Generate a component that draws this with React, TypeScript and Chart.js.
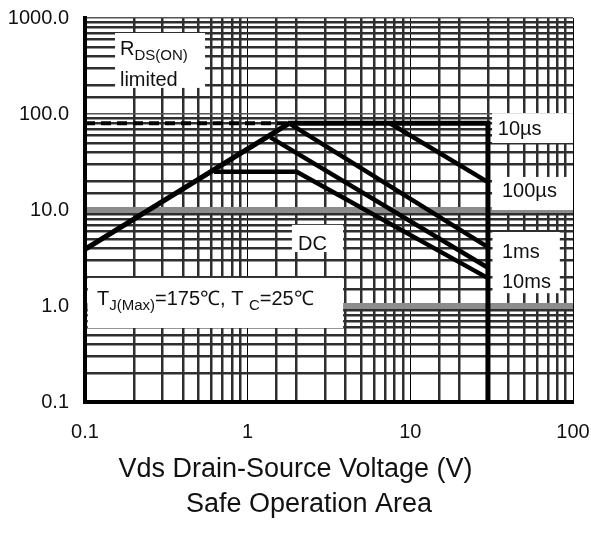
import React, { useEffect, useRef } from "react";
import { Chart, registerables } from "chart.js";

Chart.register(...registerables);

const FONT = '"Liberation Sans", Arial, sans-serif';

// Tick labels (one per decade)
const xTickLabels = ["0.1", "1", "10", "100"];
const yTickLabels = ["0.1", "1.0", "10.0", "100.0", "1000.0"];
const xMin = 0.1;
const xMax = 100;
const yMin = 0.1;
const yMax = 1000;

// Series (Vds in V, Id in A)
const rdsDashV = [0.1, 1.8];
const rdsDashI = [80, 80];
const us10V = [0.1, 1.8, 30, 30];
const us10I = [3.9, 80, 80, 0.1];
const us100V = [7.5, 30];
const us100I = [80, 19.5];
const ms1V = [1.8, 30];
const ms1I = [80, 4.1];
const ms10V = [1.38, 30];
const ms10I = [57, 2.5];
const dcV = [0.62, 2.0, 30];
const dcI = [25, 25, 1.95];

// White label boxes, in data coordinates
const boxX0 = [0.153, 31.8, 31.8, 32.0, 1.87, 0.104];
const boxX1 = [0.547, 100, 100, 83, 3.86, 3.86];
const boxY0 = [187, 49.9, 10, 1.36, 3.65, 0.59];
const boxY1 = [698, 102, 22.1, 5.9, 7.0, 1.96];

// Annotation texts: segments [text, isSubscript]
const labelTexts: [string, boolean][][] = [
  [["R", false], ["DS(ON)", true]],
  [["limited", false]],
  [["10\u00b5s", false]],
  [["100\u00b5s", false]],
  [["1ms", false]],
  [["10ms", false]],
  [["DC", false]],
  [["T", false], ["J(Max)", true], ["=175\u2103, T ", false], ["C", true], ["=25\u2103", false]],
];
const labelX = [0.164, 0.164, 34.5, 36.6, 36.6, 36.6, 2.04, 0.1185];
const labelY = [412, 196, 60.4, 13.6, 3.16, 1.54, 3.83, 1.024];

const axisTitle = "Vds Drain-Source Voltage (V)";
const caption = "Safe Operation Area";

const pts = (xs: number[], ys: number[]) => xs.map((x, i) => ({ x, y: ys[i] }));

const isDecade = (v: number) => {
  const l = Math.log10(v);
  return Math.abs(l - Math.round(l)) < 1e-6;
};

const annotPlugin = {
  id: "annot",
  beforeDatasetsDraw(chart: any) {
    const { ctx, scales } = chart;
    const xs = scales.x;
    const ys = scales.y;
    ctx.save();
    ctx.fillStyle = "#ffffff";
    for (let i = 0; i < boxX0.length; i++) {
      const a = xs.getPixelForValue(boxX0[i]);
      const b = xs.getPixelForValue(boxX1[i]);
      const c = ys.getPixelForValue(boxY1[i]);
      const d = ys.getPixelForValue(boxY0[i]);
      ctx.fillRect(a, c, b - a, d - c);
    }
    ctx.restore();
  },
  afterDatasetsDraw(chart: any) {
    const { ctx, scales } = chart;
    const xs = scales.x;
    const ys = scales.y;
    ctx.save();
    ctx.fillStyle = "#111111";
    ctx.textBaseline = "alphabetic";
    ctx.textAlign = "left";
    for (let i = 0; i < labelTexts.length; i++) {
      let px = xs.getPixelForValue(labelX[i]);
      const py = ys.getPixelForValue(labelY[i]);
      for (const [t, sub] of labelTexts[i]) {
        ctx.font = sub ? `15px ${FONT}` : `20px ${FONT}`;
        ctx.fillText(t, px, sub ? py + 5 : py);
        px += ctx.measureText(t).width;
      }
    }
    ctx.restore();
  },
  afterDraw(chart: any) {
    const { ctx } = chart;
    ctx.save();
    ctx.fillStyle = "#111111";
    ctx.textAlign = "center";
    ctx.textBaseline = "alphabetic";
    ctx.font = `27px ${FONT}`;
    ctx.fillText(axisTitle, 295.5, 477);
    ctx.font = `27px ${FONT}`;
    ctx.fillText(caption, 309, 512);
    ctx.restore();
  },
};

export default function App() {
  const ref = useRef<HTMLCanvasElement | null>(null);
  useEffect(() => {
    if (!ref.current) return;
    const line = (data: any[], dash: number[] = [], w = 4.5) => ({
      data,
      borderColor: "#000000",
      backgroundColor: "#000000",
      borderWidth: w,
      borderDash: dash,
      pointRadius: 0,
      fill: false,
      tension: 0,
      borderJoinStyle: "miter",
      showLine: true,
    });
    const chart = new Chart(ref.current, {
      type: "line",
      data: {
        datasets: [
          { label: "RDS(ON) limited", ...line(pts(rdsDashV, rdsDashI), [10, 6], 4) },
          { label: "10us", ...line(pts(us10V, us10I), [], 5) },
          { label: "100us", ...line(pts(us100V, us100I)) },
          { label: "1ms", ...line(pts(ms1V, ms1I)) },
          { label: "10ms", ...line(pts(ms10V, ms10I)) },
          { label: "DC", ...line(pts(dcV, dcI)) },
        ] as any,
      },
      options: {
        animation: false,
        responsive: false,
        maintainAspectRatio: false,
        parsing: false as any,
        layout: { padding: { left: 0, right: 18, top: 18, bottom: 0 } },
        plugins: { legend: { display: false }, tooltip: { enabled: false }, title: { display: false } },
        scales: {
          x: {
            type: "logarithmic",
            min: xMin,
            max: xMax,
            position: "bottom",
            afterFit: (s: any) => {
              s.height = 134;
              s.paddingLeft = 0;
              s.paddingRight = 0;
            },
            grid: {
              drawTicks: false,
              color: (c: any) => (isDecade(c.tick.value) ? "#000000" : "#2e2e2e"),
              lineWidth: (c: any) => (isDecade(c.tick.value) ? 1 : 2.5),
            },
            border: { display: true, color: "#000000", width: 4 },
            ticks: {
              autoSkip: false,
              maxRotation: 0,
              padding: 18,
              color: "#111111",
              font: { family: FONT, size: 20 },
              callback: (v: any) => {
                const n = Number(v);
                if (!isDecade(n)) return "";
                const idx = Math.round(Math.log10(n) - Math.log10(xMin));
                return xTickLabels[idx] ?? "";
              },
            },
          },
          y: {
            type: "logarithmic",
            min: yMin,
            max: yMax,
            position: "left",
            afterFit: (s: any) => {
              s.width = 85;
              s.paddingTop = 0;
              s.paddingBottom = 0;
            },
            grid: {
              drawTicks: false,
              color: (c: any) => {
                const v = c.tick.value;
                if (!isDecade(v)) return "#2e2e2e";
                if (Math.abs(v - 10) < 1e-6 || Math.abs(v - 1) < 1e-6) return "#8c8c8c";
                return "#555555";
              },
              lineWidth: (c: any) => {
                const v = c.tick.value;
                if (!isDecade(v)) return 2.5;
                if (Math.abs(v - 10) < 1e-6 || Math.abs(v - 1) < 1e-6) return 6;
                return 1.5;
              },
            },
            border: { display: true, color: "#000000", width: 4 },
            ticks: {
              autoSkip: false,
              padding: 16,
              color: "#111111",
              font: { family: FONT, size: 20 },
              callback: (v: any) => {
                const n = Number(v);
                if (!isDecade(n)) return "";
                const idx = Math.round(Math.log10(n) - Math.log10(yMin));
                return yTickLabels[idx] ?? "";
              },
            },
          },
        },
      } as any,
      plugins: [annotPlugin],
    });
    return () => chart.destroy();
  }, []);
  return (
    <div style={{ position: "absolute", left: 0, top: 0, width: 591, height: 536, background: "#ffffff" }}>
      <canvas ref={ref} width={591} height={536} style={{ display: "block", width: 591, height: 536 }} />
    </div>
  );
}
